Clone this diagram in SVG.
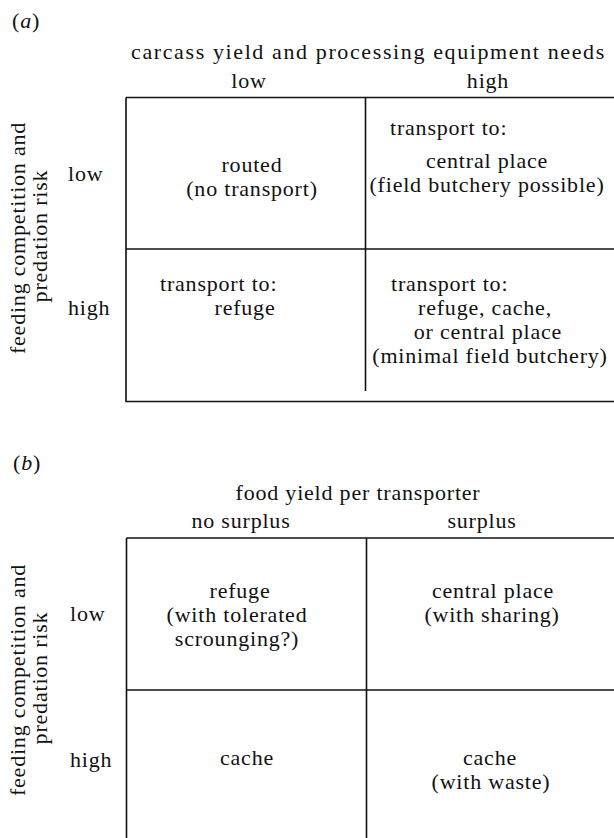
<svg xmlns="http://www.w3.org/2000/svg" width="614" height="838" viewBox="0 0 614 838">
<style>
text{font-family:"Liberation Serif","Times New Roman",serif;font-size:22px;fill:#111;letter-spacing:0.8px}
.m{text-anchor:middle}
.ln{stroke:#111;stroke-width:1.6;fill:none}
.it{font-style:italic}
</style>
<rect width="614" height="838" fill="#fff"/>
<g id="panel-a">
<text x="12" y="28">(<tspan class="it">a</tspan>)</text>
<text x="131" y="59" textLength="474" lengthAdjust="spacing">carcass yield and processing equipment needs</text>
<text class="m" x="249" y="88">low</text>
<text class="m" x="488" y="88">high</text>
<text x="68" y="181">low</text>
<text x="68" y="315">high</text>
<text class="m" transform="translate(25,238) rotate(-90)">feeding competition and</text>
<text class="m" transform="translate(47,236) rotate(-90)">predation risk</text>
</g>
<g id="grid-a" class="connectors">
<path class="ln" d="M126,97.5 H614 M126,97.5 V401.5 H614 M126,249 H614 M365.5,97.5 V391"/>
</g>
<g id="cell-a-ll"><text class="m" x="252" y="172">routed</text><text class="m" x="252" y="196">(no transport)</text></g>
<g id="cell-a-lh"><text x="390" y="135">transport to:</text><text class="m" x="487" y="168">central place</text><text class="m" x="487" y="192">(field butchery possible)</text></g>
<g id="cell-a-hl"><text x="160" y="291">transport to:</text><text class="m" x="245" y="315">refuge</text></g>
<g id="cell-a-hh"><text x="391" y="291">transport to:</text><text class="m" x="485" y="315">refuge, cache,</text><text class="m" x="488" y="339">or central place</text><text class="m" x="490" y="363">(minimal field butchery)</text></g>

<g id="panel-b">
<text x="13" y="470">(<tspan class="it">b</tspan>)</text>
<text class="m" x="358" y="500">food yield per transporter</text>
<text class="m" x="241" y="528">no surplus</text>
<text class="m" x="482" y="528">surplus</text>
<text x="70" y="621">low</text>
<text x="70" y="767">high</text>
<text class="m" transform="translate(25,680) rotate(-90)">feeding competition and</text>
<text class="m" transform="translate(47,678) rotate(-90)">predation risk</text>
</g>
<g id="grid-b" class="connectors">
<path class="ln" d="M126.5,538 H614 M126.5,538 V838 M126.5,690 H614 M366.5,538 V838"/>
</g>
<g id="cell-b-ll"><text class="m" x="240" y="598">refuge</text><text class="m" x="237" y="622">(with tolerated</text><text class="m" x="237" y="646">scrounging?)</text></g>
<g id="cell-b-lh"><text class="m" x="493" y="598">central place</text><text class="m" x="492" y="622">(with sharing)</text></g>
<g id="cell-b-hl"><text class="m" x="247" y="765">cache</text></g>
<g id="cell-b-hh"><text class="m" x="490" y="765">cache</text><text class="m" x="491" y="789">(with waste)</text></g>
</svg>
